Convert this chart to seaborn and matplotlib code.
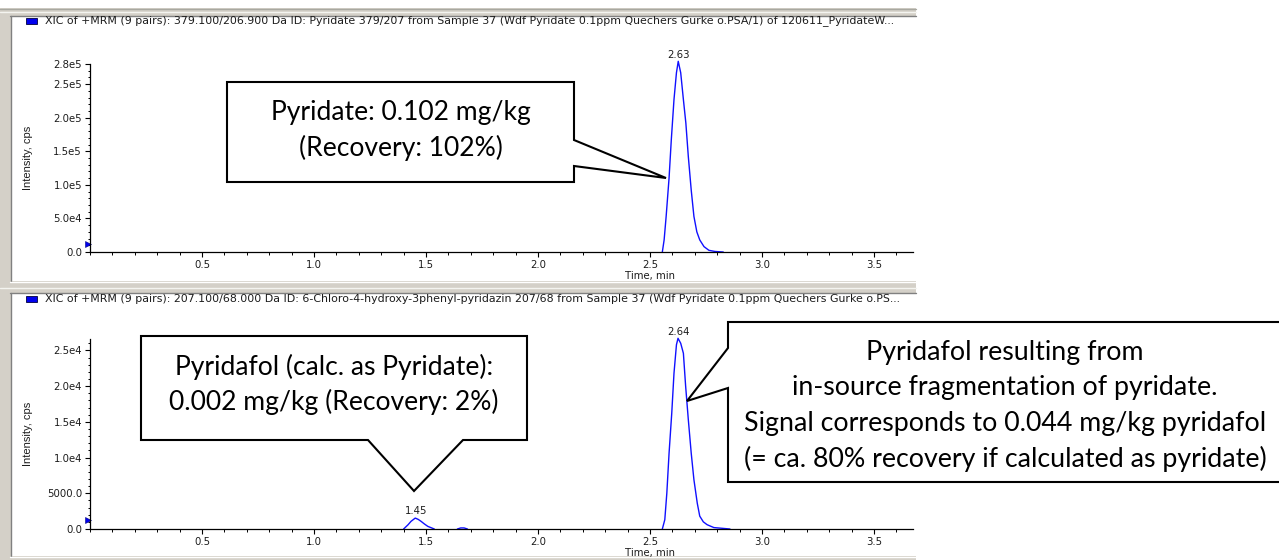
import numpy as np
import pandas as pd
import matplotlib
matplotlib.use("Agg")
import matplotlib.pyplot as plt
import seaborn as sns
from matplotlib.patches import Rectangle, Polygon
from matplotlib.ticker import MultipleLocator, FixedLocator, FixedFormatter
from matplotlib.lines import Line2D

# ---------------- data ----------------
top_time = [2.555, 2.563, 2.572, 2.585, 2.595, 2.607, 2.618, 2.626, 2.637, 2.649,
            2.660, 2.671, 2.684, 2.696, 2.709, 2.722, 2.741, 2.763, 2.790, 2.827]
top_intensity = [0, 1.8e4, 5.3e4, 1.10e5, 1.67e5, 2.27e5, 2.67e5, 2.84e5, 2.67e5, 2.27e5,
                 1.92e5, 1.42e5, 9.2e4, 5.3e4, 3.0e4, 1.8e4, 8.0e3, 2.5e3, 8.0e2, 0]

bottom_time = [1.400, 1.420, 1.433, 1.452, 1.465, 1.478, 1.493, 1.508, 1.537,
               1.640, 1.655, 1.670, 1.685,
               2.555, 2.566, 2.575, 2.585, 2.597, 2.607, 2.618, 2.625, 2.637, 2.649,
               2.659, 2.671, 2.684, 2.696, 2.711, 2.722, 2.738, 2.755, 2.785, 2.857]
bottom_intensity = [0, 600, 1070, 1530, 1350, 1070, 700, 370, 0,
                    0, 150, 150, 0,
                    0, 1300, 5000, 10600, 16200, 21800, 25800, 26700, 26000, 24600,
                    20000, 15300, 10600, 6900, 3600, 1800, 1000, 600, 200, 0]
bottom_segment = [0] * 9 + [1] * 4 + [2] * 20

top_peak_labels = ["2.63"]
bottom_peak_labels = ["1.45", "2.64"]

top_yticks = [0, 5e4, 1e5, 1.5e5, 2e5, 2.5e5, 2.8e5]
top_yticklabels = ["0.0", "5.0e4", "1.0e5", "1.5e5", "2.0e5", "2.5e5", "2.8e5"]
bottom_yticks = [0, 5000, 1e4, 1.5e4, 2e4, 2.5e4]
bottom_yticklabels = ["0.0", "5000.0", "1.0e4", "1.5e4", "2.0e4", "2.5e4"]
xticks = [0.5, 1.0, 1.5, 2.0, 2.5, 3.0, 3.5]
xticklabels = ["0.5", "1.0", "1.5", "2.0", "2.5", "3.0", "3.5"]

top_title = ("XIC of +MRM (9 pairs): 379.100/206.900 Da ID: Pyridate 379/207 from Sample 37 "
             "(Wdf Pyridate 0.1ppm Quechers Gurke o.PSA/1) of 120611_PyridateW...")
bottom_title = ("XIC of +MRM (9 pairs): 207.100/68.000 Da ID: 6-Chloro-4-hydroxy-3phenyl-pyridazin "
                "207/68 from Sample 37 (Wdf Pyridate 0.1ppm Quechers Gurke o.PS...")

callout1_lines = ["Pyridate: 0.102 mg/kg", "(Recovery: 102%)"]
callout2_lines = ["Pyridafol (calc. as Pyridate):", "0.002 mg/kg (Recovery: 2%)"]
callout3_lines = ["Pyridafol resulting from",
                  "in-source fragmentation of pyridate.",
                  "Signal corresponds to 0.044 mg/kg pyridafol",
                  "(= ca. 80% recovery if calculated as pyridate)"]

# ---------------- figure ----------------
sns.set_theme(style="white")
plt.rcParams["font.family"] = ["DejaVu Sans"]
W, H = 1279, 560
fig = plt.figure(figsize=(W / 100, H / 100), dpi=100)
fig.patch.set_facecolor("white")

SMALL = 7.3
TXT = "#1c1c1c"


def fx(x):
    return x / W


def fy(y):
    return 1 - y / H


def rect(x0, y0, x1, y1, **kw):
    fig.add_artist(Rectangle((fx(x0), fy(y1)), (x1 - x0) / W, (y1 - y0) / H,
                             transform=fig.transFigure, **kw))


def hline(x0, x1, y, color, lw=1.0, z=-5):
    fig.add_artist(Line2D([fx(x0), fx(x1)], [fy(y), fy(y)], transform=fig.transFigure,
                          color=color, lw=lw, zorder=z))


def vline(x, y0, y1, color, lw=1.0, z=-5):
    fig.add_artist(Line2D([fx(x), fx(x)], [fy(y0), fy(y1)], transform=fig.transFigure,
                          color=color, lw=lw, zorder=z))


# window frame
rect(0, 8, 916, 560, facecolor="#d4d0c8", edgecolor="none", zorder=-10)
rect(11, 16, 916, 281, facecolor="white", edgecolor="none", zorder=-9)
rect(11, 293, 916, 556, facecolor="white", edgecolor="none", zorder=-9)
for (ya, yb) in [(16, 281), (293, 556)]:
    hline(10, 916, ya - 0.5, "#808080")
    vline(10.5, ya, yb, "#808080")
    hline(0, 916, ya - 4.5, "#f4f4f0")
    hline(10, 916, yb + 0.5, "#ffffff")
hline(0, 916, 8.5, "#a8a8a0")

# axes
ax1 = fig.add_axes([fx(90), fy(252), (913 - 90) / W, (252 - 64) / H])
ax2 = fig.add_axes([fx(90), fy(529), (913 - 90) / W, (529 - 339) / H])

df_top = pd.DataFrame({"time": top_time, "intensity": top_intensity})
df_bot = pd.DataFrame({"time": bottom_time, "intensity": bottom_intensity,
                       "seg": bottom_segment})

sns.lineplot(data=df_top, x="time", y="intensity", ax=ax1, color="#1010ff",
             lw=1.0, estimator=None, sort=False, legend=False)
sns.lineplot(data=df_bot, x="time", y="intensity", units="seg", ax=ax2, color="#1010ff",
             lw=1.0, estimator=None, sort=False, legend=False)
for ax in (ax1, ax2):
    for ln in ax.lines:
        ln.set_clip_on(False)

for ax, ylim, yt, ytl, yminor in [
    (ax1, (0, 2.8e5), top_yticks, top_yticklabels, 1e4),
    (ax2, (0, 2.66e4), bottom_yticks, bottom_yticklabels, 1000),
]:
    ax.set_facecolor("none")
    ax.set_xlim(0.0, 3.674)
    ax.set_ylim(*ylim)
    ax.xaxis.set_major_locator(FixedLocator(xticks))
    ax.xaxis.set_major_formatter(FixedFormatter(xticklabels))
    ax.xaxis.set_minor_locator(MultipleLocator(0.1))
    ax.yaxis.set_major_locator(FixedLocator(yt))
    ax.yaxis.set_major_formatter(FixedFormatter(ytl))
    ax.yaxis.set_minor_locator(MultipleLocator(yminor))
    for s in ["top", "right"]:
        ax.spines[s].set_visible(False)
    for s in ["left", "bottom"]:
        ax.spines[s].set_color("black")
        ax.spines[s].set_linewidth(0.9)
    ax.tick_params(which="major", direction="out", length=3.5, width=0.8, color="black",
                   labelsize=SMALL, labelcolor=TXT, pad=2.2,
                   bottom=True, left=True)
    ax.tick_params(which="minor", direction="out", length=1.8, width=0.7, color="black",
                   bottom=True, left=True)
    for lab in ax.get_xticklabels() + ax.get_yticklabels():
        lab.set_family("DejaVu Sans")
    ax.set_xlabel("")
    ax.set_ylabel("Intensity, cps", fontsize=8.0, family="Liberation Sans", color=TXT)
    ax.yaxis.set_label_coords(-0.069, 0.5)
    # software marker on the y axis
    ax.plot([-0.002], [0.045], marker=">", color="#0000ee", markersize=4.5,
            transform=ax.transAxes, clip_on=False, markeredgecolor="#000080",
            markeredgewidth=0.4)

# peak labels
for ax, df, labels in [(ax1, df_top, top_peak_labels), (ax2, df_bot, bottom_peak_labels)]:
    for lab in labels:
        rt = float(lab)
        win = df[(df["time"] > rt - 0.08) & (df["time"] < rt + 0.08)]
        i = win["intensity"].idxmax()
        ax.annotate(lab, (df.loc[i, "time"], df.loc[i, "intensity"]),
                    xytext=(0.5, 1.2), textcoords="offset points",
                    ha="center", va="bottom", fontsize=SMALL, color=TXT,
                    family="DejaVu Sans", annotation_clip=False)

# axis x labels
fig.text(fx(650), fy(276), "Time, min", ha="center", va="center", fontsize=SMALL,
         color=TXT, family="DejaVu Sans")
fig.text(fx(650), fy(553), "Time, min", ha="center", va="center", fontsize=SMALL,
         color=TXT, family="DejaVu Sans")

# titles with blue squares
for ysq, title in [(21, top_title), (299, bottom_title)]:
    rect(26, ysq - 3, 37, ysq + 3, facecolor="#0000ee", edgecolor="#000040", lw=0.6,
         zorder=3)
    fig.text(fx(45), fy(ysq), title, ha="left", va="center", fontsize=7.9,
             color=TXT, family="DejaVu Sans")


# callouts
def callout(points, lines, cx, baselines, size):
    pts = [(fx(x), fy(y)) for x, y in points]
    fig.add_artist(Polygon(pts, closed=True, transform=fig.transFigure, facecolor="white",
                           edgecolor="black", lw=1.5, zorder=6, joinstyle="miter"))
    for line, yb in zip(lines, baselines):
        fig.text(fx(cx), fy(yb), line, ha="center", va="baseline", fontsize=size,
                 family="Lato", color="black", zorder=7)


callout([(227, 82), (574, 82), (574, 140), (666, 178), (574, 166), (574, 182), (227, 182)],
        callout1_lines, 400.5, [120, 156], 19.1)
callout([(141, 336), (527, 336), (527, 440), (463, 440), (414, 491), (368, 440), (141, 440)],
        callout2_lines, 334, [375, 410], 19.1)
callout([(728, 322), (1300, 322), (1300, 482), (728, 482), (728, 388), (687, 401), (728, 348)],
        callout3_lines, 1005, [360, 395.5, 431, 466.5], 19.3)

fig.savefig("out.png", dpi=100)
